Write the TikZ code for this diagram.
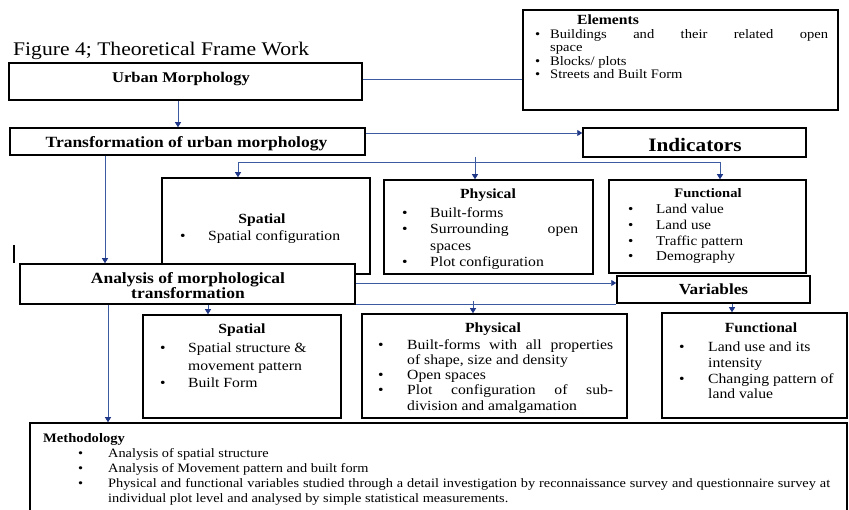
\documentclass[tikz,border=0pt]{standalone}
\usepackage{fontspec}
\setmainfont[FakeStretch=1.12]{Liberation Serif}
\usetikzlibrary{fit,arrows.meta}
\definecolor{conncol}{RGB}{60,90,160}
\definecolor{tipcol}{RGB}{30,55,135}
\newlength\bulind
\newlength\itmdp
\newcommand\itm[1]{\par\noindent\makebox[\bulind][l]{\textbullet}\parbox[t]{\dimexpr\hsize-\bulind\relax}{#1\par\global\itmdp=\prevdepth}\par\prevdepth=\itmdp\relax}
\newcommand\fs[2]{\fontsize{#1}{#2}\selectfont}
\tikzset{
  box/.style={draw=black, line width=1.5pt, fill=white, inner sep=0pt},
  hdr/.style={inner sep=0pt, anchor=north, font=\bfseries\fs{14}{16}},
  lst/.style={inner sep=0pt, anchor=north west, align=justify},
  conn/.style={draw=conncol, line width=0.9pt},
  arr/.style={conn, -{Triangle[length=5pt,width=6pt,color=tipcol]}},
}
\begin{document}
\begin{tikzpicture}[x=1pt,y=-1pt]
\useasboundingbox (0,0) rectangle (849,510);
\fill[white] (0,0) rectangle (849,510);
% title
\node[anchor=north west, inner sep=0pt, font=\fs{19.3}{21}] (title) at (13,42) {Figure 4; Theoretical Frame Work};
% boxes
\node[box, fit={(9,63) (362,100)}] (um) {};
\node[box, fit={(523,10) (838,110)}] (el) {};
\node[box, fit={(10,128) (365,155)}] (tr) {};
\node[box, fit={(583,128) (806,157)}] (ind) {};
\node[box, fit={(162,178) (370,274)}] (sp1) {};
\node[box, fit={(384,180) (593,274)}] (ph1) {};
\node[box, fit={(609,180) (806,273)}] (fn1) {};
\node[box, fit={(20,264) (355,304)}] (an) {};
\node[box, fit={(617,276) (810,303)}] (var) {};
\node[box, fit={(143,315) (341,418)}] (sp2) {};
\node[box, fit={(362,314) (627,418)}] (ph2) {};
\node[box, fit={(662,313) (847,418)}] (fn2) {};
\node[box, fit={(30,423) (847,520)}] (meth) {};
% stray mark
\draw[line width=2pt] (14,245) -- (14,263);
% headers
\node[hdr, font=\bfseries\fs{14.8}{16}] (umh) at (181,72) {Urban Morphology};
\node[hdr] (elh) at (608,15) {Elements};
\node[hdr, font=\bfseries\fs{15.6}{17}] (trh) at (186.5,136) {Transformation of urban morphology};
\node[hdr, font=\bfseries\fs{19}{21}] (indh) at (695,138) {Indicators};
\node[hdr] (sp1h) at (262,214) {Spatial};
\node[hdr] (ph1h) at (488,189) {Physical};
\node[hdr, font=\bfseries\fs{13}{15}] (fn1h) at (708,188) {Functional};
\node[hdr, font=\bfseries\fs{15.6}{15.5}, align=center] (anh) at (188,272) {Analysis of morphological\\transformation};
\node[hdr, font=\bfseries\fs{15.4}{17}] (varh) at (713.5,284) {Variables};
\node[hdr] (sp2h) at (242,324) {Spatial};
\node[hdr] (ph2h) at (493,323) {Physical};
\node[hdr] (fn2h) at (761,323) {Functional};
\node[hdr, anchor=north west, font=\bfseries\fs{13}{15}] (methh) at (43,433) {Methodology};
% lists
\node[lst, text width=293pt, font=\fs{13}{13.5}] (ell) at (535,24.5) {\setlength\bulind{15pt}%
  \itm{Buildings and their related open\linebreak space}
  \itm{Blocks/ plots}
  \itm{Streets and Built Form}};
\node[lst, text width=185pt, font=\fs{14}{16}] (sp1l) at (180,224) {\setlength\bulind{28pt}%
  \itm{Spatial configuration}};
\node[lst, text width=176pt, font=\fs{14}{16.3}] (ph1l) at (402,201) {\setlength\bulind{28pt}%
  \itm{Built-forms}
  \itm{Surrounding open\linebreak spaces}
  \itm{Plot configuration}};
\node[lst, text width=172pt, font=\fs{13.5}{15.7}] (fn1l) at (628,198) {\setlength\bulind{28pt}%
  \itm{Land value}
  \itm{Land use}
  \itm{Traffic pattern}
  \itm{Demography}};
\node[lst, text width=175pt, font=\fs{14}{17.5}] (sp2l) at (160,335) {\setlength\bulind{28pt}%
  \itm{Spatial structure \&\newline movement pattern}
  \itm{Built Form}};
\node[lst, text width=235pt, font=\fs{14}{15.2}] (ph2l) at (378,334) {\setlength\bulind{29pt}%
  \itm{Built-forms with all properties\linebreak of shape, size and density}
  \itm{Open spaces}
  \itm{Plot configuration of sub-\linebreak division and amalgamation}};
\node[lst, text width=166pt, font=\fs{14}{15.7}] (fn2l) at (679,336) {\setlength\bulind{29pt}%
  \itm{Land use and its\newline intensity}
  \itm{Changing pattern of\newline land value}};
\node[lst, text width=752pt, font=\fs{12.8}{15}] (methl) at (78,442) {\setlength\bulind{30pt}%
  \itm{Analysis of spatial structure}
  \itm{Analysis of Movement pattern and built form}
  \itm{Physical and functional variables studied through a detail investigation by reconnaissance survey and questionnaire survey at\linebreak individual plot level and analysed by simple statistical measurements.}};
% connectors
\draw[conn] ([yshift=2.5pt]um.east) -- ([yshift=2.5pt]um.east -| el.west);
\draw[arr] ([xshift=-7.5pt]um.south) -- ([xshift=-7.5pt]um.south |- tr.north);
\draw[arr] ([yshift=8.5pt]tr.east) -- ([yshift=8.5pt]tr.east -| ind.west);
\coordinate (b1l) at (238,162);
\coordinate (b1r) at (720,162);
\coordinate (b1t) at (475,157);
\draw[conn] (b1l) -- (b1r);
\draw[arr] (b1l) -- (b1l |- sp1.north);
\draw[arr] (b1r) -- (b1r |- fn1.north);
\draw[arr] (b1t) -- (b1t |- ph1.north);
\draw[arr] ([xshift=-82.5pt]tr.south) -- ([xshift=-82.5pt]tr.south |- an.north);
\draw[arr] ([yshift=1pt]an.east) -- ([yshift=1pt]an.east -| var.west);
\draw[conn] (an.south east) -- (an.south east -| var.west);
\draw[arr] ([xshift=20.5pt]an.south) -- ([xshift=20.5pt]an.south |- sp2.north);
\coordinate (b2t) at (473,301);
\draw[arr] (b2t) -- (b2t |- ph2.north);
\draw[arr] ([xshift=18.5pt]var.south) -- ([xshift=18.5pt]var.south |- fn2.north);
\draw[arr] ([xshift=-79.5pt]an.south) -- ([xshift=-79.5pt]an.south |- meth.north);
\end{tikzpicture}
\end{document}
